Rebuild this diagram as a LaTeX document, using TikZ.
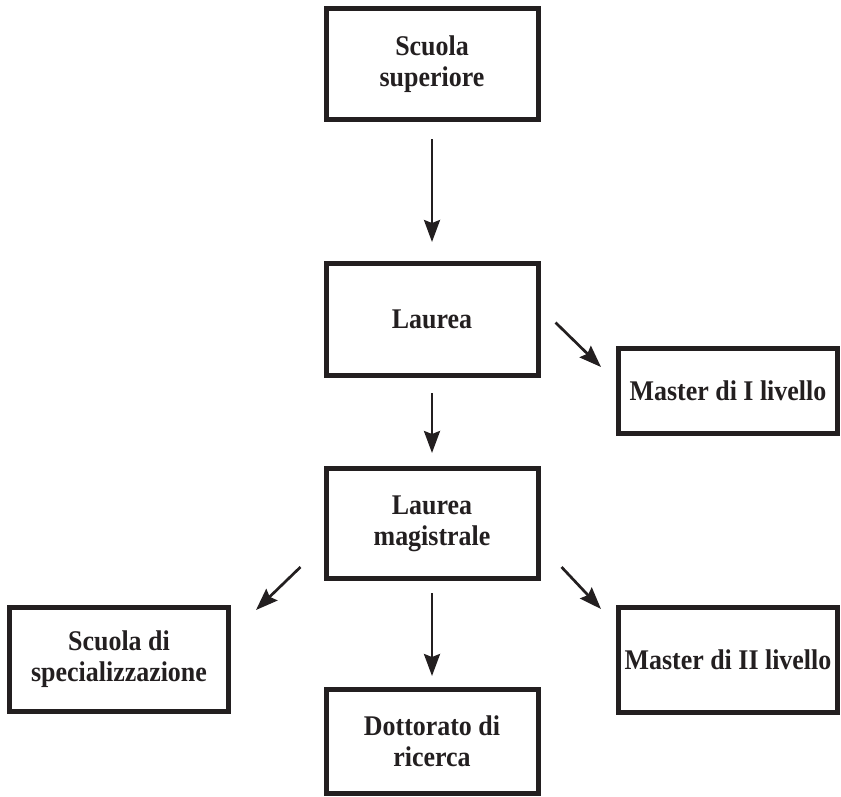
\documentclass[tikz,border=0pt]{standalone}
\usepackage{fontspec}
\setmainfont{Liberation Serif}[FakeStretch=0.91]
\usetikzlibrary{arrows.meta}
\definecolor{ink}{HTML}{231F20}
\tikzset{box/.style={draw=ink, line width=5pt, inner sep=0pt, align=center, text=ink,
                     font=\bfseries\fontsize{28.5}{31}\selectfont},
         link/.style={draw=ink, line width=2.7pt, -{Stealth[length=22pt,width=16pt,inset=3pt]}}}

\begin{document}
\begin{tikzpicture}[x=1pt,y=-1pt]
   \useasboundingbox (0,0) rectangle (841,796);
   % central column
   \node[box, minimum width=212pt, minimum height=111pt] (sup)  at (432, 64.0) {Scuola\\superiore};
   \node[box, minimum width=212pt, minimum height=112pt] (lau)  at (432,319.5) {Laurea};
   \node[box, minimum width=212pt, minimum height=110pt] (mag)  at (432,523.5) {Laurea\\magistrale};
   \node[box, minimum width=212pt, minimum height=104pt] (dott) at (432,741.5) {Dottorato di\\ricerca};
   % side boxes
   \node[box, minimum width=219pt, minimum height= 85pt] (mI)   at (728,391.0) {Master di I livello};
   \node[box, minimum width=219pt, minimum height=104pt] (spec) at (119,659.5) {Scuola di\\specializzazione};
   \node[box, minimum width=219pt, minimum height=105pt] (mII)  at (728,660.0) {Master di II livello};

   \draw[link, shorten <=17pt, shorten >=19pt] (sup) -- (lau);
   \draw[link, shorten <=15pt, shorten >=13pt] (lau) -- (mag);
   \draw[link, shorten <=12pt, shorten >=11pt] (mag) -- (dott);
   \draw[link] ([xshift=15pt,yshift=-3pt]lau.east) -- ([xshift=-15pt,yshift=24pt]mI.west);
   \draw[link] ([xshift=-23pt,yshift=14pt]mag.south west) -- ([xshift=25pt,yshift=-5pt]spec.north east);
   \draw[link] ([xshift=21pt,yshift=14pt]mag.south east) -- ([xshift=-15pt,yshift=-4pt]mII.north west);
\end{tikzpicture}
\end{document}
